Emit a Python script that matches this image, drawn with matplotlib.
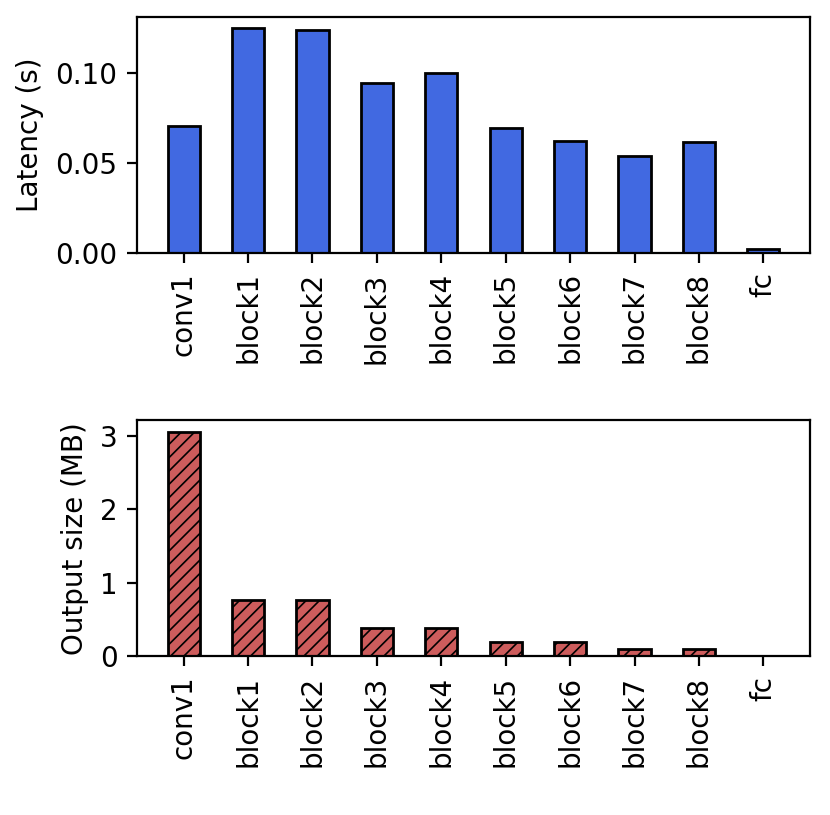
import matplotlib
matplotlib.use('Agg')
import matplotlib.pyplot as plt
import numpy as np

# layer names
layers = ['conv1', 'block1', 'block2', 'block3', 'block4',
          'block5', 'block6', 'block7', 'block8', 'fc']
# per-layer latency (s)
latency = [0.0707, 0.1247, 0.1239, 0.0946, 0.1000,
           0.0691, 0.0621, 0.0540, 0.0617, 0.0022]
# per-layer output size (MB)
outSize = [3.0625, 0.7656, 0.7656, 0.3828, 0.3828,
           0.1914, 0.1914, 0.0957, 0.0957, 0.0038]

plt.rcParams['hatch.linewidth'] = 0.6
fig, (ax1, ax2) = plt.subplots(2, 1, figsize=(4.15, 4.075), dpi=200)
x = np.arange(len(layers))

ax1.bar(x, latency, width=0.5, color='royalblue', edgecolor='black')
ax1.set_ylabel('Latency (s)')
ax1.set_xticks(x)
ax1.set_xticklabels(layers, rotation=90)

ax2.bar(x, outSize, width=0.5, color='indianred', edgecolor='black',
        hatch='/////')
ax2.set_ylabel('Output size (MB)')
ax2.set_xticks(x)
ax2.set_xticklabels(layers, rotation=90)

fig.subplots_adjust(left=0.165, right=0.976, top=0.979, bottom=0.195,
                    hspace=0.71)
fig.savefig('out.png')
